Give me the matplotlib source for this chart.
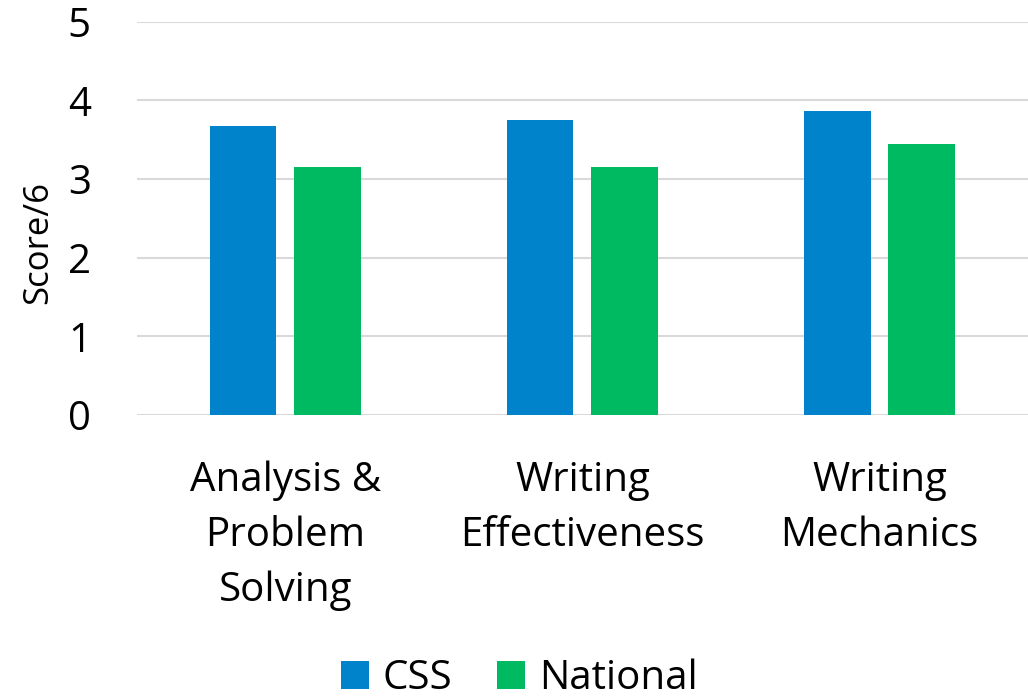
import numpy as np
import matplotlib
matplotlib.use("Agg")
from matplotlib import pyplot as plt

categories = ["Analysis &\nProblem\nSolving", "Writing\nEffectiveness", "Writing\nMechanics"]
css = [3.67, 3.75, 3.86]
national = [3.15, 3.15, 3.45]

plt.rcParams['font.family'] = ['Open Sans', 'DejaVu Sans']

fig = plt.figure(figsize=(10.28, 7), dpi=100)
ax = fig.add_axes([0.133, 0.407, 0.867, 0.562])

x = np.arange(len(categories))
w = 0.225
ax.bar(x - 0.1425, css, width=w, color="#0083CB", label="CSS", zorder=3)
ax.bar(x + 0.1425, national, width=w, color="#00BA61", label="National", zorder=3)

ax.set_xlim(-0.5, 2.5)
ax.set_ylim(0, 5)
ax.set_yticks(range(6))
ax.yaxis.grid(True, color="#d9d9d9", linewidth=1.5, zorder=0)
for s in ax.spines.values():
    s.set_visible(False)
ax.tick_params(axis="y", length=0, pad=33, labelsize=29)
ax.tick_params(axis="x", length=0, pad=33, labelsize=29)
ax.set_xticks(x)
ax.set_xticklabels(categories, linespacing=1.47)
ax.set_ylabel("Score/6", fontsize=25)
ax.yaxis.set_label_coords(-0.092, 0.44)

fig.legend(loc="lower center", ncol=2, frameon=False, fontsize=29,
           handlelength=0.7, handleheight=0.7, handletextpad=0.35,
           columnspacing=1.1, bbox_to_anchor=(0.505, -0.05))

fig.savefig("out.png", dpi=100)
